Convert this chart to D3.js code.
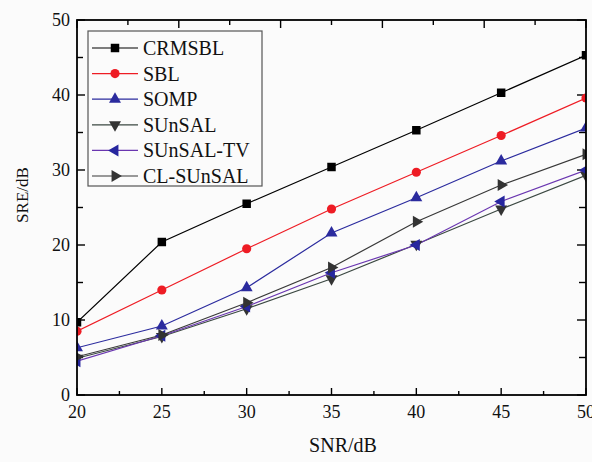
<!DOCTYPE html>
<html><head><meta charset="utf-8">
<script src="https://cdn.jsdelivr.net/npm/d3@7"></script>
<style>html,body{margin:0;padding:0;background:#fbfbfb;}svg{display:block;}svg text{font-family:"Liberation Serif","Times New Roman",serif;}</style>
</head><body>
<svg id="chart" width="592" height="462"></svg>
<script>
const snr = [20, 25, 30, 35, 40, 45, 50];
const seriesNames = ["CRMSBL", "SBL", "SOMP", "SUnSAL", "SUnSAL-TV", "CL-SUnSAL"];
const crmsbl   = [9.7, 20.4, 25.5, 30.4, 35.3, 40.3, 45.3];
const sbl      = [8.5, 14.0, 19.5, 24.8, 29.7, 34.6, 39.6];
const somp     = [6.3, 9.2, 14.3, 21.6, 26.3, 31.2, 35.6];
const sunsal   = [4.9, 7.8, 11.5, 15.5, 20.1, 24.8, 29.3];
const sunsalTV = [4.5, 7.9, 11.8, 16.3, 20.0, 25.8, 30.0];
const clSunsal = [5.1, 8.0, 12.3, 17.0, 23.1, 28.0, 32.1];
const xTicks = [20, 25, 30, 35, 40, 45, 50];
const yTicks = [0, 10, 20, 30, 40, 50];
const xLabel = "SNR/dB";
const yLabel = "SRE/dB";

const styles = [
  {line: "#000000", fill: "#000000", sym: d3.symbolSquare, size: 72, rot: 0},
  {line: "#ee1c24", fill: "#ee1c24", sym: d3.symbolCircle, size: 66, rot: 0},
  {line: "#2b2b9e", fill: "#2b2b9e", sym: d3.symbolTriangle, size: 62, rot: 0},
  {line: "#3b4842", fill: "#333333", sym: d3.symbolTriangle, size: 62, rot: 180},
  {line: "#6a36b0", fill: "#26269e", sym: d3.symbolTriangle, size: 62, rot: -90},
  {line: "#383838", fill: "#333333", sym: d3.symbolTriangle, size: 62, rot: 90}
];
const allSeries = [crmsbl, sbl, somp, sunsal, sunsalTV, clSunsal];

const svg = d3.select("#chart");
const L = 77, R = 586, T = 20, B = 395;
const x = d3.scaleLinear().domain([20, 50]).range([L, R]);
const y = d3.scaleLinear().domain([0, 50]).range([B, T]);
const xTop = d3.scaleLinear().domain([0, 50]).range([L, R]);
const font = "Liberation Serif, Times New Roman, serif";

svg.append("rect").attr("x", 0).attr("y", 0).attr("width", 592).attr("height", 462).attr("fill", "#fbfbfb");
svg.append("defs").append("clipPath").attr("id", "clip")
  .append("rect").attr("x", L).attr("y", T).attr("width", R - L).attr("height", B - T);

// ticks
const tickG = svg.append("g").attr("stroke", "#000").attr("stroke-width", 1.4);
d3.range(20, 50.01, 2.5).forEach(v => {
  const major = Math.abs(v % 5) < 1e-6;
  tickG.append("line").attr("x1", x(v)).attr("x2", x(v)).attr("y1", B).attr("y2", B - (major ? 7 : 4));
});
d3.range(0, 50.01, 5).forEach(v => {
  const major = v % 10 === 0;
  tickG.append("line").attr("x1", xTop(v)).attr("x2", xTop(v)).attr("y1", T).attr("y2", T + (major ? 8 : 5));
  tickG.append("line").attr("y1", y(v)).attr("y2", y(v)).attr("x1", L).attr("x2", L + (major ? 8 : 6));
  tickG.append("line").attr("y1", y(v)).attr("y2", y(v)).attr("x1", R).attr("x2", R - (major ? 9 : 7));
});

// tick labels
svg.append("g").selectAll("text").data(xTicks).join("text")
  .attr("x", d => x(d)).attr("y", 418).attr("text-anchor", "middle")
  .style("font-family", font).attr("font-size", 18).attr("fill", "#111").text(d => d);
svg.append("g").selectAll("text").data(yTicks).join("text")
  .attr("x", 70).attr("y", d => y(d) + 6).attr("text-anchor", "end")
  .style("font-family", font).attr("font-size", 18).attr("fill", "#111").text(d => d);

// axis titles
svg.append("text").attr("x", 343).attr("y", 452).attr("text-anchor", "middle")
  .style("font-family", font).attr("font-size", 20).attr("fill", "#111").text(xLabel);
svg.append("text").attr("transform", "translate(28,195) rotate(-90)").attr("text-anchor", "middle")
  .style("font-family", font).attr("font-size", 17).attr("fill", "#111").text(yLabel);

// series
const plot = svg.append("g").attr("clip-path", "url(#clip)");
const line = d3.line().x((d, i) => x(snr[i])).y(d => y(d));
allSeries.forEach((vals, si) => {
  const st = styles[si];
  plot.append("path").datum(vals).attr("d", line).attr("fill", "none")
    .attr("stroke", st.line).attr("stroke-width", 1.2);
});
allSeries.forEach((vals, si) => {
  const st = styles[si];
  plot.append("g").selectAll("path").data(vals).join("path")
    .attr("d", d3.symbol().type(st.sym).size(st.size))
    .attr("transform", (d, i) => `translate(${x(snr[i])},${y(d)}) rotate(${st.rot})`)
    .attr("fill", st.fill);
});

// frame
svg.append("rect").attr("x", L).attr("y", T).attr("width", R - L).attr("height", B - T)
  .attr("fill", "none").attr("stroke", "#000").attr("stroke-width", 1.8);

// legend
const lg = svg.append("g");
lg.append("rect").attr("x", 88).attr("y", 31).attr("width", 174).attr("height", 155)
  .attr("fill", "#fbfbfb").attr("stroke", "#555").attr("stroke-width", 1.2);
seriesNames.forEach((name, i) => {
  const st = styles[i];
  const cy = 48 + i * 25.6;
  lg.append("line").attr("x1", 92).attr("x2", 138).attr("y1", cy).attr("y2", cy)
    .attr("stroke", st.line).attr("stroke-width", 1.2);
  lg.append("path").attr("d", d3.symbol().type(st.sym).size(st.size))
    .attr("transform", `translate(115,${cy}) rotate(${st.rot})`).attr("fill", st.fill);
  lg.append("text").attr("x", 143).attr("y", cy + 7)
    .style("font-family", font).attr("font-size", 20).attr("fill", "#111").text(name);
});
</script>
</body></html>
